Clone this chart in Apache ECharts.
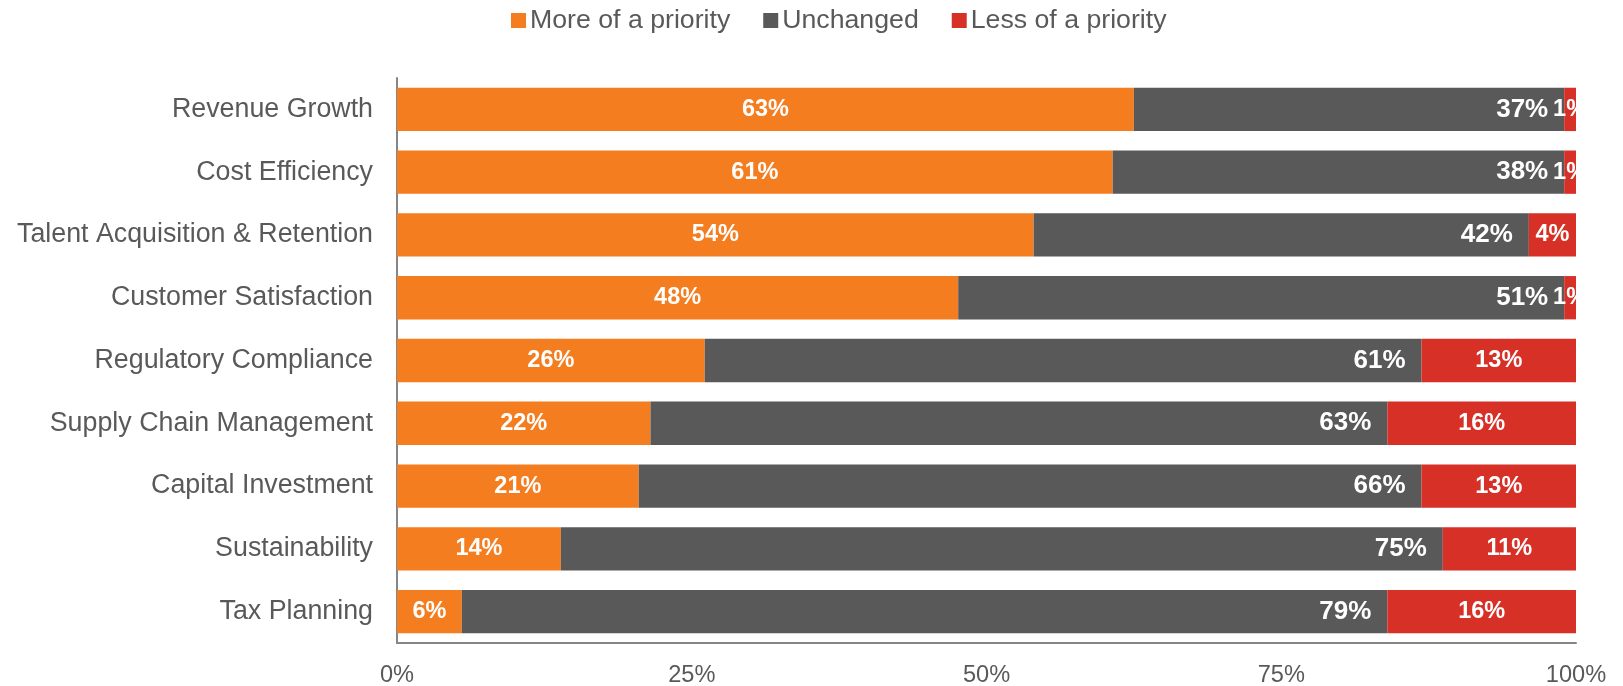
<!DOCTYPE html>
<html>
<head>
<meta charset="utf-8">
<script src="https://cdn.jsdelivr.net/npm/echarts@6/dist/echarts.min.js"></script>
<style>
html,body{margin:0;padding:0;background:#fff;}
#chart{width:1623px;height:686px;}
</style>
</head>
<body>
<div id="chart"></div>
<script>
// Categories (top to bottom)
var categories = [
  "Revenue Growth",
  "Cost Efficiency",
  "Talent Acquisition & Retention",
  "Customer Satisfaction",
  "Regulatory Compliance",
  "Supply Chain Management",
  "Capital Investment",
  "Sustainability",
  "Tax Planning"
];
// Shares in percent
var moreOfAPriority = [62.5, 60.7, 54.0, 47.6, 26.1, 21.5, 20.5, 13.9, 5.5];
var unchanged       = [36.5, 38.3, 42.0, 51.4, 60.8, 62.5, 66.4, 74.8, 78.5];
var lessOfAPriority = [1.0, 1.0, 4.0, 1.0, 13.1, 16.0, 13.1, 11.3, 16.0];
var seriesNames = ["More of a priority", "Unchanged", "Less of a priority"];
var xTicks = [0, 25, 50, 75, 100];

var FONT = "'Liberation Sans', Arial, sans-serif";
var colors = ["#F47D20", "#595959", "#D63027"];

function pct(p) { return Math.round(p.value) + "%"; }

var labelBase = {
  show: true,
  color: "#ffffff",
  fontFamily: FONT,
  fontWeight: "bold",
  fontSize: 23.5,
  textBorderWidth: 0,
  padding: [3, 0, 0, 0],
  formatter: pct
};

var chart = echarts.init(document.getElementById("chart"), null, {renderer: "canvas"});
chart.setOption({
  animation: false,
  backgroundColor: "#ffffff",
  color: colors,
  legend: {
    data: seriesNames,
    left: 511,
    top: 7,
    padding: 0,
    icon: "rect",
    itemWidth: 15,
    itemHeight: 15,
    itemGap: 33,
    textStyle: {fontFamily: FONT, fontSize: 26.7, color: "#595959", padding: [0, 0, 0, -1]}
  },
  grid: {left: 397, right: 47, top: 78, bottom: 43, containLabel: false, outerBoundsMode: "none"},
  xAxis: {
    type: "value",
    min: xTicks[0],
    max: xTicks[xTicks.length - 1],
    interval: 25,
    axisLine: {show: true, lineStyle: {color: "#868686", width: 2}},
    axisTick: {show: false},
    splitLine: {show: false},
    axisLabel: {
      formatter: "{value}%",
      fontFamily: FONT,
      fontSize: 23.6,
      color: "#595959",
      margin: 20
    }
  },
  yAxis: {
    type: "category",
    data: categories,
    inverse: true,
    axisLine: {show: true, lineStyle: {color: "#868686", width: 2}},
    axisTick: {show: false},
    axisLabel: {fontFamily: FONT, fontSize: 26.8, color: "#595959", margin: 24}
  },
  series: [
    {
      name: seriesNames[0], type: "bar", stack: "total", data: moreOfAPriority,
      barCategoryGap: "31%",
      label: Object.assign({}, labelBase, {position: "inside"})
    },
    {
      name: seriesNames[1], type: "bar", stack: "total", data: unchanged,
      barCategoryGap: "31%",
      label: Object.assign({}, labelBase, {position: "insideRight", distance: 16, fontSize: 26})
    },
    {
      name: seriesNames[2], type: "bar", stack: "total", data: lessOfAPriority,
      barCategoryGap: "31%",
      label: Object.assign({}, labelBase, {position: "inside"})
    }
  ]
});
</script>
</body>
</html>
